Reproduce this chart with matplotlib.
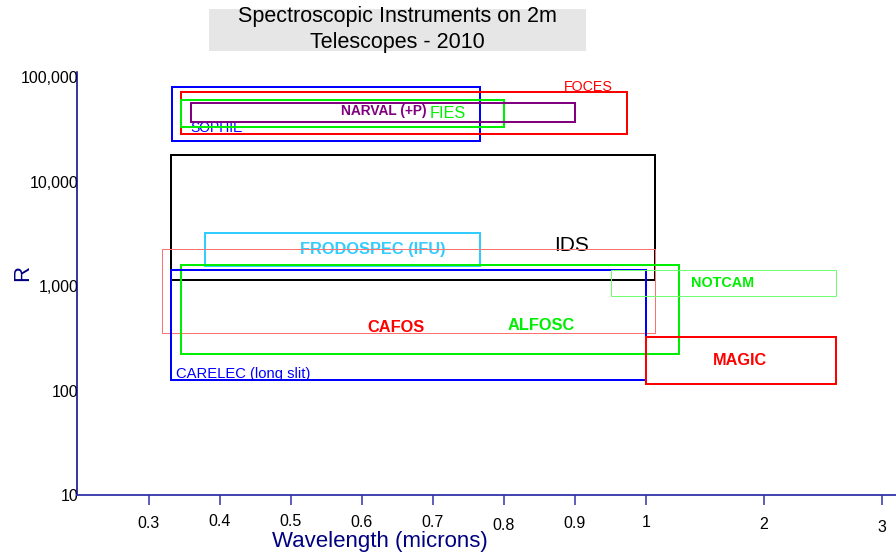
import numpy as np
import matplotlib
matplotlib.use('Agg')
import matplotlib.pyplot as plt
from matplotlib.patches import Rectangle

plt.rcParams['font.family'] = ['Liberation Sans', 'DejaVu Sans']

# instrument boxes: wavelength range (microns) and resolution range
names = ['SOPHIE', 'FOCES', 'FIES', 'NARVAL (+P)', 'IDS', 'FRODOSPEC (IFU)',
         'CAFOS', 'ALFOSC', 'CARELEC (long slit)', 'NOTCAM', 'MAGIC']
wl_lo = [0.333, 0.345, 0.345, 0.359, 0.332, 0.379, 0.319, 0.345, 0.332, 0.951, 1.00]
wl_hi = [0.767, 0.974, 0.800, 0.901, 1.081, 0.767, 1.075, 1.282, 1.000, 2.61, 2.61]
r_lo = [24400, 28300, 33400, 37100, 1140, 1560, 357, 225, 126, 796, 115]
r_hi = [80000, 71300, 60300, 56700, 17900, 3190, 2245, 1590, 1420, 1420, 323]

# where each name is written (wavelength, R)
lab_wl = [0.358, 0.919, 0.7215, 0.6915, 0.895, 0.615, 0.6476, 0.853, 0.3385, 1.651, 1.802]
lab_r = [32700, 80700, 45200, 47300, 2430, 2245, 405, 421, 144, 1077, 194]

x_ticks = [0.3, 0.4, 0.5, 0.6, 0.7, 0.8, 0.9, 1, 2, 3]
x_ticklabels = ['0.3', '0.4', '0.5', '0.6', '0.7', '0.8', '0.9', '1', '2', '3']
y_ticks = [10, 100, 1000, 10000, 100000]
y_ticklabels = ['10', '100', '1,000', '10,000', '100,000']

edge = ['#0000ff', '#ff0000', '#00ee00', '#800080', '#000000', '#33ccff',
        '#ff7070', '#00ee00', '#0000ff', '#70ff70', '#ff0000']
lw = [2, 2, 2, 2, 2, 2, 1, 2, 2, 1, 2]
tcol = ['#0000ff', '#ff0000', '#00ee00', '#800080', '#000000', '#33ccff',
        '#ff0000', '#00ee00', '#0000ff', '#00ee00', '#ff0000']
tsize = [10, 10.3, 11.7, 9.9, 15, 11.8, 11.8, 11.8, 10.6, 10.4, 11.7]
tbold = [False, False, False, True, False, True, True, True, False, True, True]
tha = ['left', 'center', 'center', 'right', 'center', 'center',
       'center', 'center', 'left', 'center', 'center']

# axis is linear up to 1 micron, then compressed
K = 118 / 710.


def fwd(x):
    x = np.asarray(x, dtype=float)
    return np.where(x <= 1, x, 1 + (x - 1) * K)


def inv(y):
    y = np.asarray(y, dtype=float)
    return np.where(y <= 1, y, 1 + (y - 1) / K)


fig = plt.figure(figsize=(8.96, 5.56), dpi=100)
ax = fig.add_axes([77 / 896, 61 / 556, 819 / 896, 423.3 / 556])
ax.set_xscale('function', functions=(fwd, inv))
ax.set_yscale('log')
ax.set_xlim(0.199, 3.121)
ax.set_ylim(10, 112500)

for i in range(len(names)):
    ax.add_patch(Rectangle((wl_lo[i], r_lo[i]), wl_hi[i] - wl_lo[i], r_hi[i] - r_lo[i],
                           fill=False, edgecolor=edge[i], lw=lw[i] * 0.72, zorder=3))
    ax.text(lab_wl[i], lab_r[i], names[i], color=tcol[i], fontsize=tsize[i],
            fontweight='bold' if tbold[i] else 'normal', ha=tha[i], va='center', zorder=2)

for s in ['top', 'right']:
    ax.spines[s].set_visible(False)
ax.spines['left'].set_color('#000080')
ax.spines['bottom'].set_color('#3333aa')
ax.spines['left'].set_linewidth(1.1)
ax.spines['bottom'].set_linewidth(1.3)

ax.set_xticks(x_ticks)
ax.set_xticklabels(x_ticklabels)
ax.xaxis.set_minor_locator(plt.NullLocator())
ax.tick_params(axis='x', length=7.2, width=1.1, color='#3333aa', labelsize=11.5, labelcolor='black')
# labels in the original sit at slightly uneven heights
jit = [1, -1, -1, 0, 0, 3, 1, 0.5, 2, 5.5]
for t, j in zip(ax.xaxis.get_major_ticks(), jit):
    t.set_pad(7 + j * 0.72)

ax.set_yticks(y_ticks)
ax.set_yticklabels(y_ticklabels)
ax.yaxis.set_minor_locator(plt.NullLocator())
ax.tick_params(axis='y', length=0, pad=-1.2, labelsize=11.5, labelcolor='black')

ax.set_xlabel('Wavelength (microns)', fontsize=16, color='#000080', va='center')
ax.xaxis.set_label_coords((379.5 - 77) / 819, (495 - 541.5) / 423.3)
ax.set_ylabel('R', fontsize=16, color='#000080', va='center')
ax.yaxis.set_label_coords((22.5 - 77) / 819, (495 - 273) / 423.3)

fig.patches.append(Rectangle((209 / 896, 1 - 51 / 556), 377 / 896, 42 / 556,
                             transform=fig.transFigure, facecolor='#e6e6e6',
                             edgecolor='none', zorder=0))
fig.text(397 / 896, 1 - 29.5 / 556, 'Spectroscopic Instruments on 2m\nTelescopes - 2010',
         ha='center', va='center', fontsize=15.5, color='black', linespacing=1.3)

fig.savefig('out.png', dpi=100)
